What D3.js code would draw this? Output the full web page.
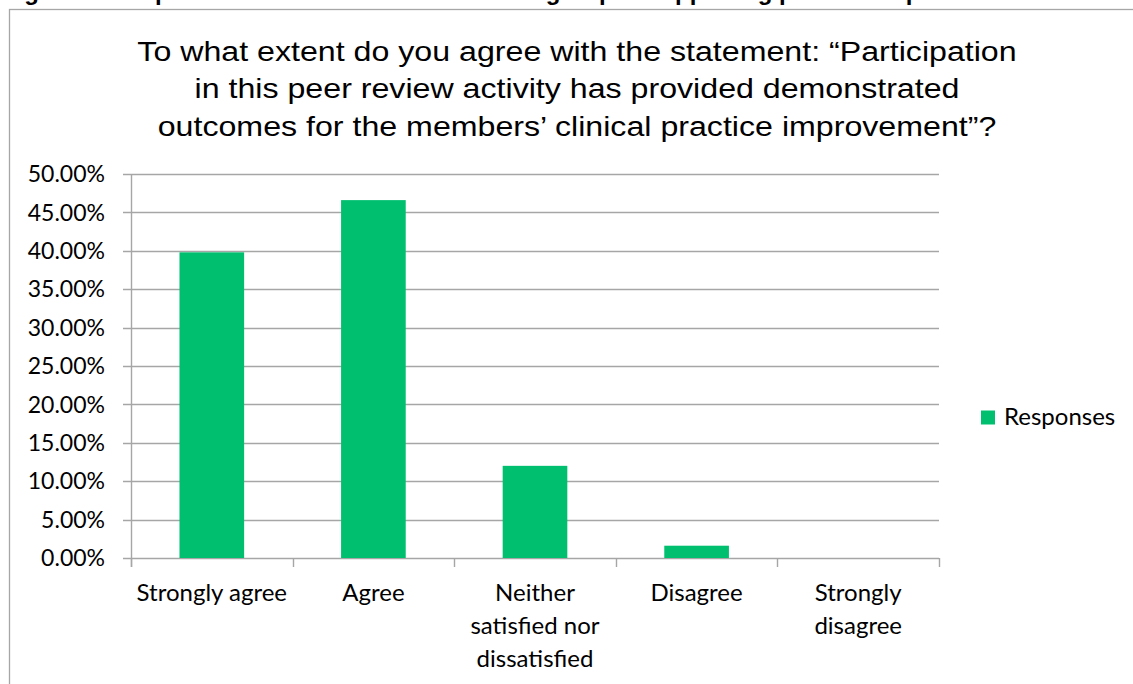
<!DOCTYPE html>
<html>
<head>
<meta charset="utf-8">
<script src="https://cdn.jsdelivr.net/npm/d3@7"></script>
<style>
  html, body { margin: 0; padding: 0; background: #fff; }
  svg { display: block; }
</style>
</head>
<body>
<svg id="chart" width="1133" height="684"></svg>
<script>
// Survey question and response categories
const figureCaption = "Figure 9: Respondents\u2019 views on the extent the group is supporting practice improvement";
const titleLines = [
  "To what extent do you agree with the statement: \u201cParticipation",
  "in this peer review activity has provided demonstrated",
  "outcomes for the members\u2019 clinical practice improvement\u201d?"
];
const categories = ["Strongly agree", "Agree", "Neither satisfied nor dissatisfied", "Disagree", "Strongly disagree"];
const categoryLines = [["Strongly agree"], ["Agree"], ["Neither", "satisfied nor", "dissatisfied"], ["Disagree"], ["Strongly", "disagree"]];
const responses = [0.398, 0.466, 0.120, 0.016, 0.0];
const yTicks = [0, 0.05, 0.10, 0.15, 0.20, 0.25, 0.30, 0.35, 0.40, 0.45, 0.50];
const seriesName = "Responses";

const svg = d3.select("#chart");
const gridColor = "#a6a6a6";
const barColor = "#00bf6f";
const labelFont = "Lato, 'Open Sans', sans-serif";

// Caption line above the chart frame (only its descenders reach into the page)
svg.append("text")
  .attr("x", 3).attr("y", 0)
  .attr("font-family", "'Liberation Sans', Arial, sans-serif")
  .attr("font-weight", "bold")
  .attr("font-size", 24)
  .attr("fill", "#000")
  .text(figureCaption);

// Chart frame
svg.append("rect")
  .attr("x", 9.5).attr("y", 9.5)
  .attr("width", 1140).attr("height", 700)
  .attr("fill", "#fff")
  .attr("stroke", gridColor).attr("stroke-width", 1.3);

// Title, set in a horizontally widened face
svg.append("text")
  .attr("transform", "translate(577,0) scale(1.17,1)")
  .attr("text-anchor", "middle")
  .attr("font-family", "'Liberation Sans', Arial, sans-serif")
  .attr("font-size", 27.5)
  .attr("fill", "#000")
  .selectAll("tspan")
  .data(titleLines)
  .join("tspan")
  .attr("x", 0)
  .attr("y", (d, i) => 61 + i * 37.5)
  .text(d => d);

// Scales
const x = d3.scaleBand().domain(categories).range([131, 939]).padding(0);
const y = d3.scaleLinear().domain([0, 0.5]).range([558, 174]);
const fmt = d3.format(".2%");

// Horizontal gridlines with tick stubs on the left
svg.append("g")
  .selectAll("line")
  .data(yTicks)
  .join("line")
  .attr("x1", 123).attr("x2", 939)
  .attr("y1", d => Math.round(y(d)) + 0.5)
  .attr("y2", d => Math.round(y(d)) + 0.5)
  .attr("stroke", gridColor).attr("stroke-width", 1.4);

// Y axis line
svg.append("line")
  .attr("x1", 131.5).attr("x2", 131.5)
  .attr("y1", y(0.5)).attr("y2", 567)
  .attr("stroke", gridColor).attr("stroke-width", 1.4);

// Category boundary ticks on the x axis
const bounds = categories.map(c => x(c)).concat([x.range()[1]]);
svg.append("g")
  .selectAll("line")
  .data(bounds)
  .join("line")
  .attr("x1", d => Math.round(d) + 0.5).attr("x2", d => Math.round(d) + 0.5)
  .attr("y1", y(0)).attr("y2", 567)
  .attr("stroke", gridColor).attr("stroke-width", 1.4);

// Y tick labels
svg.append("g")
  .selectAll("text")
  .data(yTicks)
  .join("text")
  .attr("x", 105)
  .attr("y", d => y(d))
  .attr("dy", "0.36em")
  .attr("text-anchor", "end")
  .attr("font-family", labelFont)
  .attr("font-size", 23)
  .attr("fill", "#000")
  .text(d => fmt(d));

// Bars
const barW = x.bandwidth() * 0.4;
svg.append("g")
  .selectAll("rect")
  .data(responses)
  .join("rect")
  .attr("x", (d, i) => x(categories[i]) + (x.bandwidth() - barW) / 2)
  .attr("y", d => y(d))
  .attr("width", barW)
  .attr("height", d => y(0) - y(d))
  .attr("fill", barColor);

// Category labels
const catG = svg.append("g")
  .attr("font-family", labelFont)
  .attr("font-size", 24)
  .attr("fill", "#000")
  .attr("text-anchor", "middle");
categoryLines.forEach((lines, i) => {
  catG.append("text")
    .selectAll("tspan")
    .data(lines)
    .join("tspan")
    .attr("x", x(categories[i]) + x.bandwidth() / 2)
    .attr("y", (d, j) => 601 + j * 33)
    .text(d => d);
});

// Legend
svg.append("rect")
  .attr("x", 981).attr("y", 410.5)
  .attr("width", 14).attr("height", 14)
  .attr("fill", barColor);
svg.append("text")
  .attr("x", 1004).attr("y", 425)
  .attr("font-family", labelFont)
  .attr("font-size", 24)
  .attr("fill", "#000")
  .text(seriesName);
</script>
</body>
</html>
